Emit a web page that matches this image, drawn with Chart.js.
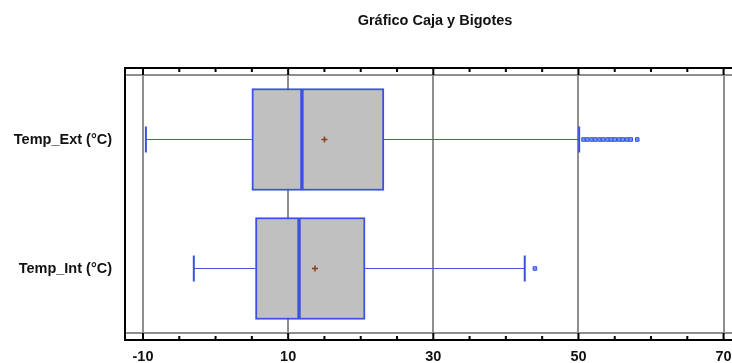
<!DOCTYPE html>
<html>
<head>
<meta charset="utf-8">
<script src="https://cdn.jsdelivr.net/npm/chart.js@4/dist/chart.umd.min.js"></script>
<style>
    html, body { margin: 0; padding: 0; background: #fff; overflow: hidden; }
    #wrap { width: 732px; height: 363px; overflow: hidden; }
    #boxChart { display: block; }
</style>
</head>
<body>
<div id="wrap"><canvas id="boxChart"></canvas></div>
<script>
const categories = ['Temp_Ext (°C)', 'Temp_Int (°C)'];
const whiskerLow = [-9.6, -3.0];
const q1 = [5.0, 5.5];
const median = [11.9, 11.5];
const q3 = [23.2, 20.6];
const whiskerHigh = [50.1, 42.6];
const means = [15.0, 13.7];
const outliersExt = [50.7, 51.2, 51.8, 52.3, 52.9, 53.4, 54.0, 54.5, 55.0, 55.6, 56.1, 56.7, 57.2, 58.1];
const outliersInt = [44.0];
const tickValues = [-10, -5, 0, 5, 10, 15, 20, 25, 30, 35, 40, 45, 50, 55, 60, 65, 70];
const labelTicks = [-10, 10, 30, 50, 70];

const X_MIN = -12.48;
const X_MAX = 70.4;
const FONT = '"Liberation Sans", Arial, sans-serif';
const BLUE = '#3a51e4';
const GRID = '#8f8f8f';

const boxExtras = {
    id: 'boxExtras',
    beforeDatasetsDraw(chart) {
        const {ctx, scales: {x, y}} = chart;
        ctx.save();
        categories.forEach((c, i) => {
            const yc = y.getPixelForValue(i);
            ctx.strokeStyle = '#4658d6';
            ctx.lineWidth = 1;
            ctx.beginPath();
            ctx.moveTo(x.getPixelForValue(whiskerLow[i]), yc);
            ctx.lineTo(x.getPixelForValue(q1[i]), yc);
            ctx.moveTo(x.getPixelForValue(q3[i]), yc);
            ctx.lineTo(x.getPixelForValue(whiskerHigh[i]), yc);
            ctx.stroke();
            ctx.lineWidth = 2;
            ctx.strokeStyle = BLUE;
            [whiskerLow[i], whiskerHigh[i]].forEach(v => {
                const px = x.getPixelForValue(v);
                ctx.beginPath();
                ctx.moveTo(px, yc - 13);
                ctx.lineTo(px, yc + 13);
                ctx.stroke();
            });
        });
        ctx.restore();
    },
    afterDraw(chart) {
        const {ctx, chartArea: a, scales: {x}} = chart;
        const top = a.top - 7, bottom = a.bottom + 7;
        const right = chart.width;
        ctx.save();
        // inner gray lines
        ctx.strokeStyle = GRID;
        ctx.lineWidth = 2;
        ctx.beginPath();
        ctx.moveTo(a.left, a.top); ctx.lineTo(right, a.top);
        ctx.moveTo(a.left, a.bottom); ctx.lineTo(right, a.bottom);
        ctx.stroke();
        // black frame
        ctx.strokeStyle = '#000';
        ctx.beginPath();
        ctx.moveTo(right, top); ctx.lineTo(a.left, top);
        ctx.lineTo(a.left, bottom); ctx.lineTo(right, bottom);
        ctx.stroke();
        // ticks
        tickValues.forEach(v => {
            const px = x.getPixelForValue(v);
            const len = labelTicks.includes(v) ? 7 : 4;
            ctx.beginPath();
            ctx.moveTo(px, top); ctx.lineTo(px, top + len);
            ctx.moveTo(px, bottom); ctx.lineTo(px, bottom - len);
            ctx.stroke();
        });
        // title
        ctx.fillStyle = '#111';
        ctx.font = 'bold 14.5px ' + FONT;
        ctx.textAlign = 'center';
        ctx.textBaseline = 'middle';
        ctx.fillText('Gráfico Caja y Bigotes', 435, 21);
        ctx.restore();
    }
};

new Chart(document.getElementById('boxChart'), {
    type: 'bar',
    data: {
        labels: categories,
        datasets: [
            {
                type: 'bar',
                indexAxis: 'y',
                data: q1.map((v, i) => [v, median[i]]),
                backgroundColor: '#c0c0c0',
                borderColor: BLUE,
                borderWidth: 2,
                borderSkipped: false,
                barThickness: 102,
                grouped: false,
                order: 2
            },
            {
                type: 'bar',
                indexAxis: 'y',
                data: median.map((v, i) => [v, q3[i]]),
                backgroundColor: '#c0c0c0',
                borderColor: BLUE,
                borderWidth: 2,
                borderSkipped: false,
                barThickness: 102,
                grouped: false,
                order: 2
            },
            {
                type: 'scatter',
                data: means.map((v, i) => ({x: v, y: categories[i]})),
                pointStyle: 'cross',
                radius: 3,
                borderColor: '#8a3b1c',
                borderWidth: 1.5,
                order: 0
            },
            {
                type: 'scatter',
                data: outliersExt.map(v => ({x: v, y: categories[0]}))
                    .concat(outliersInt.map(v => ({x: v, y: categories[1]}))),
                pointStyle: 'rect',
                radius: 2.5,
                backgroundColor: '#7d95f2',
                borderColor: '#3050e6',
                borderWidth: 1,
                order: 0
            }
        ]
    },
    options: {
        responsive: true,
        maintainAspectRatio: false,
        animation: false,
        layout: {padding: {top: 75, right: 0, left: 0, bottom: 0}},
        plugins: {legend: {display: false}, tooltip: {enabled: false}, title: {display: false}},
        scales: {
            x: {
                type: 'linear',
                min: X_MIN,
                max: X_MAX,
                offset: false,
                // extra unlabeled tick at the end so the "70" label doesn't push the chart area in
                afterBuildTicks: (scale) => { scale.ticks = tickValues.concat([X_MAX]).map(v => ({value: v})); },
                afterFit: (scale) => { scale.height = 30; },
                border: {display: false},
                grid: {
                    offset: false,
                    drawTicks: true,
                    tickLength: 15,
                    tickColor: 'rgba(0,0,0,0)',
                    lineWidth: 2,
                    color: (c) => labelTicks.includes(c.tick && c.tick.value) ? GRID : 'rgba(0,0,0,0)'
                },
                ticks: {
                    autoSkip: false,
                    maxRotation: 0,
                    padding: 0,
                    color: '#111',
                    font: {family: FONT, size: 14.5, weight: 'bold'},
                    callback: (v) => labelTicks.includes(v) ? String(v) : ''
                }
            },
            y: {
                type: 'category',
                labels: categories,
                offset: true,
                afterFit: (scale) => { scale.width = 125; },
                border: {display: false},
                grid: {display: false, drawTicks: false},
                ticks: {
                    padding: 13,
                    color: '#111',
                    font: {family: FONT, size: 14.5, weight: 'bold'}
                }
            }
        }
    },
    plugins: [boxExtras]
});
</script>
</body>
</html>
